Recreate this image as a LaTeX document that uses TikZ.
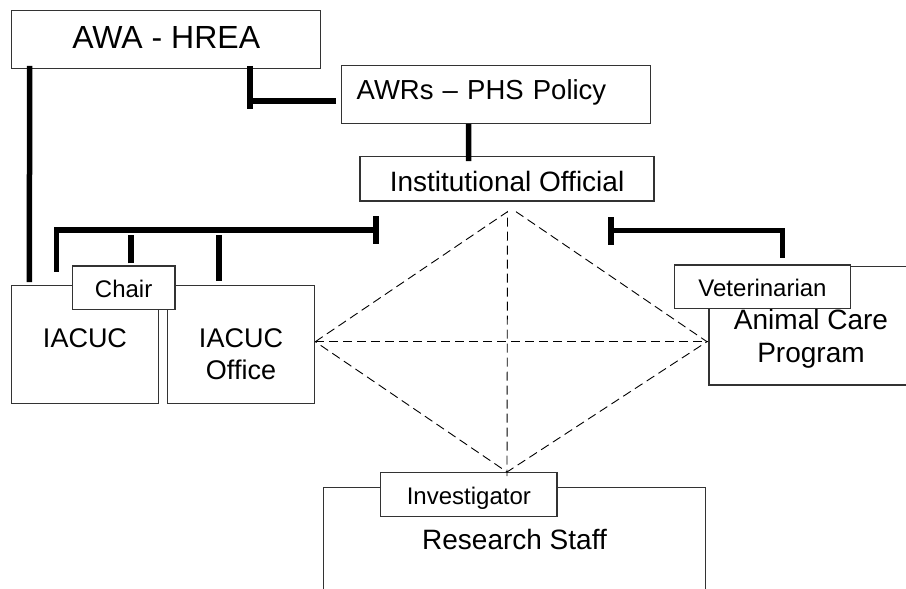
\documentclass[tikz,border=0pt]{standalone}
\usepackage{fontspec}
\setmainfont{Liberation Sans}
\usetikzlibrary{arrows.meta}

\begin{document}
\begin{tikzpicture}[x=1pt,y=-1pt,
		box/.style={draw=black!80, line width=1.1pt, fill=white, inner sep=0pt, align=center},
		conn/.style={line width=5.5pt},
		tee/.style={arrows={Bar[width=28pt]-}},
		link/.style={line width=0.9pt, dash pattern=on 9pt off 5pt}]

		\useasboundingbox (0,0) rectangle (906,589);
		\clip (0,0) rectangle (906,589);

		\node[box, minimum width=309pt, minimum height=58.3pt, font=\fontsize{32}{38}\selectfont, text height=22.9pt, text depth=4.7pt] (awa) at (166.2,39.2) {AWA - HREA};
		\node[box, minimum width=309pt, minimum height=58.3pt, font=\fontsize{27.5}{33}\selectfont, text width=279pt, align=left, inner xsep=15pt, text height=19.7pt, text depth=10.1pt] (awrs) at (496.2,94.2) {AWRs -- PHS Policy};
		\node[box, minimum width=294pt, minimum height=44.3pt, font=\fontsize{28}{33}\selectfont, text height=25.7pt, text depth=0pt] (io) at (507,178.85) {Institutional Official};

		\node[box, minimum width=146.6pt, minimum height=117.6pt, font=\fontsize{27}{32}\selectfont, text height=19.3pt, text depth=13.7pt] (iacuc) at (85,344.5) {IACUC};
		\node[box, minimum width=146.6pt, minimum height=117.6pt, font=\fontsize{27}{32}\selectfont, text height=69.6pt, text depth=0pt] (iacucoff) at (241,344.5) {IACUC\\Office};
		\node[box, minimum width=102.7pt, minimum height=43.3pt, font=\fontsize{24}{29}\selectfont, text height=19.3pt, text depth=0pt] (chair) at (123.65,287.65) {Chair};

		\node[box, minimum width=204pt, minimum height=118.3pt, font=\fontsize{28}{33}\selectfont, text height=73.7pt, text depth=0pt] (acp) at (811,325.85) {Animal Care\\Program};
		\node[box, minimum width=176.4pt, minimum height=43.3pt, font=\fontsize{24}{29}\selectfont, text height=18.7pt, text depth=0pt] (vet) at (762.5,286.65) {Veterinarian};

		\node[box, minimum width=382.4pt, minimum height=123.3pt, font=\fontsize{28}{33}\selectfont, text height=10pt, text depth=10pt] (rs) at (514.5,549.35) {Research Staff};
		\node[box, minimum width=176.3pt, minimum height=44.4pt, font=\fontsize{24}{29}\selectfont, text height=19pt, text depth=0pt] (inv) at (468.85,494.5) {Investigator};

		\coordinate (dtop) at (507.5,211.7);
		\coordinate (dleft) at (315.3,341.7);
		\coordinate (dright) at (707,341.7);
		\coordinate (dbot) at (507,472);

		\draw[link] (dleft) -- (dtop) -- ([yshift=-4pt]dbot);
		\draw[link] ([xshift=8.5pt]dtop) -- (dright) -- (dbot) -- (dleft);
		\draw[link] (dleft) -- (acp.west |- dleft);

		\coordinate (hreafoot) at (250,108.7);
		\coordinate (hreaknee) at (250,101);
		\coordinate (iobarL) at (378.5,230);
		\coordinate (iobarR) at (608,230.5);

		\draw[conn] ([shift={(18.4,-3)}]awa.south west) -- ([shift={(18.3,-3)}]iacuc.north west);
		\draw[conn] ([yshift=3pt]awa.south -| hreafoot) -- (hreafoot);
		\draw[conn] ([shift={(-5,6.8)}]awrs.west) -- (hreaknee);
		\draw[conn] ([xshift=-27.6pt]awrs.south) -- ([shift={(-38.4,5)}]io.north);

		\draw[conn,tee] (iobarL) -| ([shift={(45.3,-12.7)}]iacuc.north west);
		\draw[conn] ([shift={(7.3,-2)}]chair.north) -- ++(0,-28);
		\draw[conn] ([shift={(-22,-4)}]iacucoff.north) -- ++(0,-45.7);
		\draw[conn,tee] (iobarR) -| ([shift={(20,-6)}]vet.north);
	\end{tikzpicture}
\end{document}
